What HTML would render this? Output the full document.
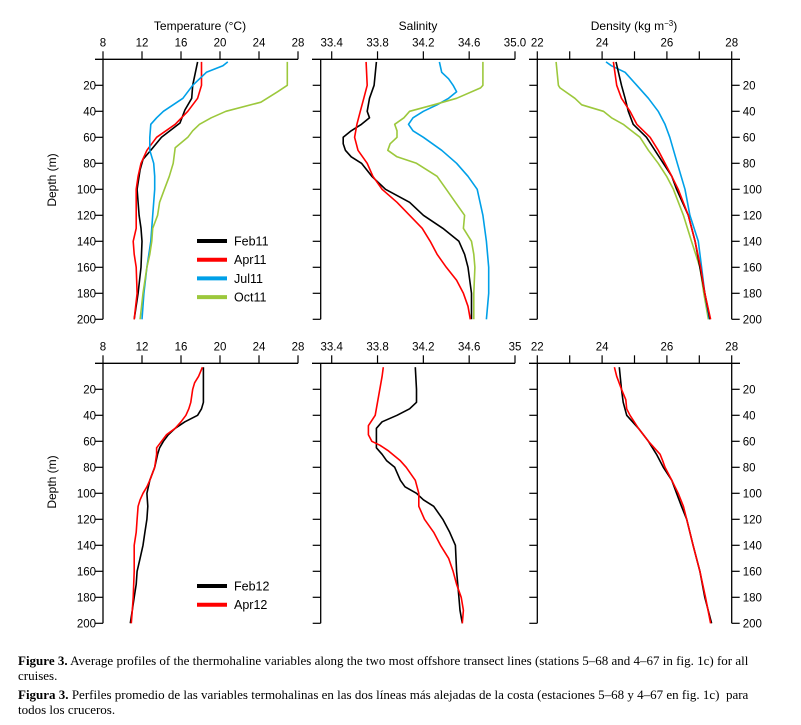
<!DOCTYPE html>
<html><head><meta charset="utf-8"><style>
body{margin:0;background:#fff;}
#wrap{position:relative;width:801px;height:725px;overflow:hidden;}
svg{position:absolute;left:0;top:0;font-family:"Liberation Sans",sans-serif;}
.cap{position:absolute;left:18px;font-family:"Liberation Serif",serif;font-size:13px;line-height:15px;color:#000;width:780px;white-space:nowrap;}
</style></head><body><div id="wrap">
<svg id="chart" width="801" height="725"></svg>
<div class="cap" style="top:653px"><b>Figure 3.</b> Average profiles of the thermohaline variables along the two most offshore transect lines (stations 5–68 and 4–67 in fig. 1c) for all<br>cruises.</div>
<div class="cap" style="top:687px"><b>Figura 3.</b> Perfiles promedio de las variables termohalinas en las dos líneas más alejadas de la costa (estaciones 5–68 y 4–67 en fig. 1c)&nbsp; para<br>todos los cruceros.</div>
</div>
<script>
// ---- data ----
const depthTicks=[20,40,60,80,100,120,140,160,180,200];
const tempTicks=[8,12,16,20,24,28];
const salTicksTop=["33.4","33.8","34.2","34.6","35.0"];
const salTicksBot=["33.4","33.8","34.2","34.6","35"];
const denTicks=[22,24,26,28];
const seriesNames2011=["Feb11","Apr11","Jul11","Oct11"];
const seriesNames2012=["Feb12","Apr12"];
const seriesColors=["#000000","#ff0000","#00a0e8","#9cc83c"];

const tFeb11D=[2,20,30,39,49,60,70,77,85,100,120,130,140,160,180,200];
const tFeb11V=[17.7,17.2,17.1,16.4,15.9,14.0,12.9,12.1,11.8,11.5,11.7,11.9,12.0,11.9,11.6,11.2];
const tApr11D=[2,20,30,35,40,50,60,70,80,90,100,120,130,140,150,160,180,200];
const tApr11V=[18.1,18.1,17.7,17.2,16.7,15.4,13.5,12.5,11.9,11.6,11.4,11.4,11.4,11.1,11.2,11.4,11.5,11.2];
const tJul11D=[2,5,10,20,30,40,45,50,60,70,80,90,100,120,140,160,180,200];
const tJul11V=[20.8,20.3,18.6,17.2,16.2,14.2,13.5,12.9,12.8,12.8,13.2,13.3,13.3,13.1,12.9,12.5,12.2,12.0];
const tOct11D=[2,20,25,33,40,45,50,55,60,68,80,90,100,110,120,130,140,150,160,180,200];
const tOct11V=[26.9,26.9,25.9,24.2,20.6,19.1,17.9,17.2,16.7,15.4,15.2,14.8,14.3,13.8,13.6,13.1,13.0,12.8,12.5,12.1,11.8];

const sFeb11D=[2,20,30,40,45,50,55,60,65,70,75,80,90,100,110,120,130,140,150,160,180,200];
const sFeb11V=[33.79,33.77,33.73,33.71,33.73,33.66,33.57,33.50,33.50,33.52,33.57,33.66,33.75,33.87,34.08,34.20,34.37,34.51,34.56,34.59,34.62,34.62];
const sApr11D=[2,20,30,40,50,60,70,80,90,100,110,120,130,140,150,160,170,180,190,200];
const sApr11V=[33.70,33.71,33.68,33.65,33.62,33.60,33.63,33.71,33.76,33.84,33.97,34.08,34.19,34.26,34.32,34.40,34.49,34.55,34.59,34.61];
const sJul11D=[2,10,15,20,25,30,35,40,45,50,55,60,70,80,90,100,120,140,160,180,200];
const sJul11V=[34.34,34.36,34.42,34.46,34.49,34.42,34.32,34.20,34.11,34.07,34.11,34.20,34.36,34.49,34.59,34.67,34.72,34.75,34.77,34.77,34.75];
const sOct11D=[2,20,22,30,35,40,45,50,55,60,65,70,75,80,90,100,110,120,130,140,150,160,180,200];
const sOct11V=[34.72,34.72,34.70,34.49,34.29,34.08,34.03,33.95,33.97,33.97,33.91,33.89,33.97,34.14,34.32,34.40,34.48,34.56,34.55,34.62,34.64,34.65,34.64,34.64];

const dFeb11D=[2,20,30,40,50,60,70,80,90,100,120,140,160,180,200];
const dFeb11V=[24.43,24.60,24.71,24.81,24.96,25.37,25.63,25.89,26.15,26.30,26.66,26.87,27.02,27.17,27.33];
const dApr11D=[2,20,30,40,50,60,70,80,90,100,120,140,160,180,200];
const dApr11V=[24.35,24.45,24.60,24.86,25.07,25.48,25.73,25.94,26.15,26.35,26.66,26.87,27.04,27.17,27.35];
const dJul11D=[2,5,10,20,30,40,50,60,80,100,120,140,160,180,200];
const dJul11V=[24.12,24.29,24.71,25.07,25.43,25.73,25.94,26.09,26.32,26.56,26.71,26.97,27.07,27.17,27.31];
const dOct11D=[2,20,22,30,35,40,45,50,60,70,80,90,100,120,140,160,180,200];
const dOct11V=[22.58,22.65,22.70,23.16,23.37,24.04,24.29,24.65,25.17,25.43,25.73,25.99,26.20,26.51,26.76,27.02,27.14,27.28];

const tFeb12D=[3,20,30,35,40,45,50,55,60,65,70,80,90,100,110,120,130,140,150,160,170,180,190,200];
const tFeb12V=[18.3,18.3,18.3,18.1,17.7,16.4,15.4,14.7,14.2,13.8,13.6,13.3,12.8,12.5,12.6,12.5,12.3,12.1,11.8,11.5,11.4,11.2,11.0,10.8];
const tApr12D=[3,10,15,20,30,35,40,45,50,55,60,65,70,80,90,95,100,105,110,120,130,140,160,180,190,200];
const tApr12V=[18.2,17.8,17.4,17.2,17.0,16.8,16.5,16.0,15.4,14.5,14.0,13.5,13.5,13.3,12.8,12.5,12.1,11.8,11.6,11.5,11.4,11.2,11.2,11.1,11.0,10.9];
const sFeb12D=[3,20,30,35,40,45,50,60,65,70,75,80,90,95,100,105,110,120,130,140,160,180,190,200];
const sFeb12V=[34.13,34.14,34.14,34.08,33.97,33.84,33.79,33.79,33.79,33.84,33.88,33.95,34.00,34.04,34.14,34.20,34.29,34.37,34.43,34.48,34.49,34.51,34.52,34.54];
const sApr12D=[3,10,20,30,40,48,55,60,63,67,75,80,90,100,105,110,120,130,140,150,160,170,180,190,200];
const sApr12V=[33.85,33.84,33.82,33.80,33.78,33.72,33.72,33.75,33.82,33.89,34.00,34.05,34.13,34.16,34.16,34.16,34.21,34.29,34.35,34.42,34.46,34.49,34.53,34.55,34.54];
const dFeb12D=[3,20,30,40,50,60,70,80,90,100,110,120,140,160,180,200];
const dFeb12V=[24.53,24.60,24.65,24.76,25.12,25.43,25.68,25.89,26.15,26.30,26.45,26.61,26.81,27.02,27.17,27.38];
const dApr12D=[3,10,20,28,35,40,50,60,70,75,80,90,100,110,120,140,160,180,200];
const dApr12V=[24.38,24.45,24.60,24.73,24.76,24.86,25.12,25.43,25.79,25.87,25.94,26.15,26.35,26.51,26.61,26.81,27.02,27.19,27.35];

// ---- drawing ----
const svg=document.getElementById('chart');
const NS='http://www.w3.org/2000/svg';
function el(tag,attrs,parent){const e=document.createElementNS(NS,tag);for(const k in attrs)e.setAttribute(k,attrs[k]);(parent||svg).appendChild(e);return e;}
function txt(x,y,s,anchor,size,name,parent){const t=el('text',{x:x,y:y,'text-anchor':anchor,'font-size':size,fill:'#000'},parent);t.textContent=s;


return t;}

function panel(cfg){
  const g=el('g',{});
  
  
  const xs=v=>cfg.x0+(v-cfg.v0)/(cfg.v1-cfg.v0)*(cfg.x1-cfg.x0);
  const ys=d=>cfg.top+d*1.3;
  const bot=ys(200);
  el('line',{x1:cfg.lineL,y1:cfg.top,x2:cfg.lineR,y2:cfg.top,stroke:'#000','stroke-width':1.3},g);
  el('line',{x1:cfg.axisX,y1:cfg.top,x2:cfg.axisX,y2:bot,stroke:'#000','stroke-width':1.3},g);
  depthTicks.forEach(d=>{el('line',{x1:cfg.axisX-8,y1:ys(d),x2:cfg.axisX,y2:ys(d),stroke:'#000','stroke-width':1.2},g);
    if(cfg.leftLabels)txt(cfg.axisX-7,ys(d)+4,String(d),'end',11.5,'depth-tick-label',g);});
  if(cfg.rightAxis){el('line',{x1:cfg.x1,y1:cfg.top,x2:cfg.x1,y2:bot,stroke:'#000','stroke-width':1.3},g);
    depthTicks.forEach(d=>{el('line',{x1:cfg.x1,y1:ys(d),x2:cfg.x1+8,y2:ys(d),stroke:'#000','stroke-width':1.2},g);
      txt(cfg.x1+11,ys(d)+4,String(d),'start',11.5,'depth-tick-label',g);});}
  cfg.minor.forEach(v=>el('line',{x1:xs(v),y1:cfg.top-8,x2:xs(v),y2:cfg.top,stroke:'#000','stroke-width':1.2},g));
  cfg.ticks.forEach(s=>txt(xs(parseFloat(s)),cfg.top-13,String(s),'middle',11.5,'x-tick-label',g));
  cfg.series.forEach((s,i)=>{
    const pts=s.d.map((d,j)=>xs(s.v[j]).toFixed(1)+','+ys(d).toFixed(1)).join(' ');
    const p=el('polyline',{points:pts,fill:'none',stroke:s.c,'stroke-width':1.6,'stroke-linejoin':'round'},g);
    
    
  });
}
const c=seriesColors;
const T0=59.3,B0=363.3;
panel({name:'temperature-2011',x0:103,x1:298,v0:8,v1:28,top:T0,axisX:103,lineL:95,lineR:298,leftLabels:true,ticks:tempTicks,minor:tempTicks,
 series:[{n:'feb11',d:tFeb11D,v:tFeb11V,c:c[0]},{n:'apr11',d:tApr11D,v:tApr11V,c:c[1]},{n:'jul11',d:tJul11D,v:tJul11V,c:c[2]},{n:'oct11',d:tOct11D,v:tOct11V,c:c[3]}]});
panel({name:'salinity-2011',x0:331.7,x1:515,v0:33.4,v1:35.0,top:T0,axisX:320.7,lineL:312,lineR:515,ticks:salTicksTop,minor:salTicksTop.map(Number),
 series:[{n:'feb11',d:sFeb11D,v:sFeb11V,c:c[0]},{n:'apr11',d:sApr11D,v:sApr11V,c:c[1]},{n:'jul11',d:sJul11D,v:sJul11V,c:c[2]},{n:'oct11',d:sOct11D,v:sOct11V,c:c[3]}]});
panel({name:'density-2011',x0:537.3,x1:731.7,v0:22,v1:28,top:T0,axisX:537.3,lineL:529,lineR:740,rightAxis:true,ticks:denTicks,minor:[22,23,24,25,26,27,28],
 series:[{n:'oct11',d:dOct11D,v:dOct11V,c:c[3]},{n:'jul11',d:dJul11D,v:dJul11V,c:c[2]},{n:'feb11',d:dFeb11D,v:dFeb11V,c:c[0]},{n:'apr11',d:dApr11D,v:dApr11V,c:c[1]}]});
panel({name:'temperature-2012',x0:103,x1:298,v0:8,v1:28,top:B0,axisX:103,lineL:95,lineR:298,leftLabels:true,ticks:tempTicks,minor:tempTicks,
 series:[{n:'feb12',d:tFeb12D,v:tFeb12V,c:c[0]},{n:'apr12',d:tApr12D,v:tApr12V,c:c[1]}]});
panel({name:'salinity-2012',x0:331.7,x1:515,v0:33.4,v1:35.0,top:B0,axisX:320.7,lineL:312,lineR:515,ticks:salTicksBot,minor:salTicksBot.map(Number),
 series:[{n:'feb12',d:sFeb12D,v:sFeb12V,c:c[0]},{n:'apr12',d:sApr12D,v:sApr12V,c:c[1]}]});
panel({name:'density-2012',x0:537.3,x1:731.7,v0:22,v1:28,top:B0,axisX:537.3,lineL:529,lineR:740,rightAxis:true,ticks:denTicks,minor:[22,23,24,25,26,27,28],
 series:[{n:'feb12',d:dFeb12D,v:dFeb12V,c:c[0]},{n:'apr12',d:dApr12D,v:dApr12V,c:c[1]}]});

txt(200,30,'Temperature (°C)','middle',12,'temperature-axis-title');
txt(418,30,'Salinity','middle',12,'salinity-axis-title');
const dt=txt(634,30,'Density (kg m','middle',12,'density-axis-title');
const sup=document.createElementNS(NS,'tspan');sup.setAttribute('font-size','8');sup.setAttribute('dy','-4');sup.textContent='−3';dt.appendChild(sup);
const cl=document.createElementNS(NS,'tspan');cl.setAttribute('dy','4');cl.textContent=')';dt.appendChild(cl);
[[180],[482]].forEach(([y])=>{const t=txt(0,0,'Depth (m)','middle',12,'depth-axis-title');t.setAttribute('transform','translate(56,'+y+') rotate(-90)');});

function legend(names,cols,y0,name){
  const g=el('g',{});
  
  
  names.forEach((n,i)=>{const y=y0+i*18.7;
    el('line',{x1:197,y1:y,x2:227,y2:y,stroke:cols[i],'stroke-width':4},g);
    txt(234,y+4.5,n,'start',12.5,'legend-label',g);});
}
legend(seriesNames2011,c,241,'legend-2011');
legend(seriesNames2012,c,586,'legend-2012');
</script></body></html>
